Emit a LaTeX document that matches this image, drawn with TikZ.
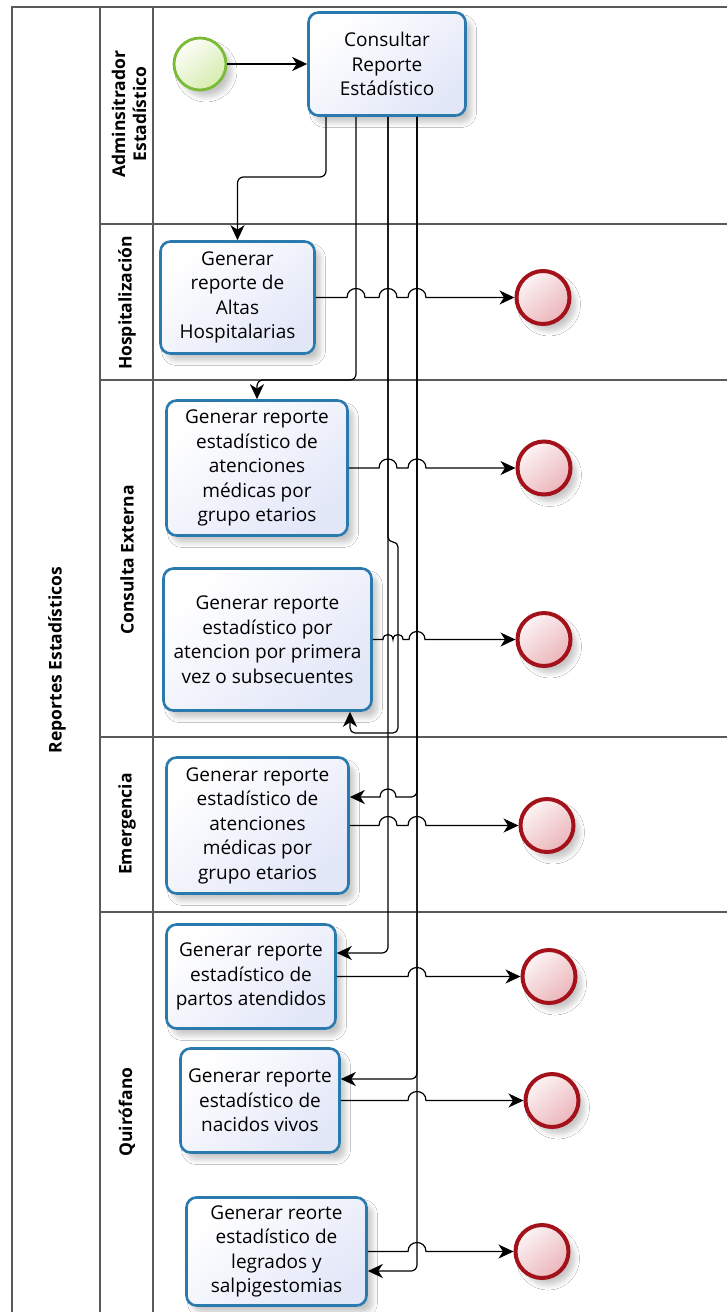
\documentclass[tikz,border=0pt]{standalone}
\usepackage{fontspec}
\setmainfont{Open Sans}
\usetikzlibrary{arrows.meta,shadows.blur}

\definecolor{taskline}{HTML}{2A7AAE}
\definecolor{taskfill}{HTML}{E2E7F8}
\definecolor{endline}{HTML}{A3121A}
\definecolor{endfill}{HTML}{EBB5BA}
\definecolor{startline}{HTML}{7BBA36}
\definecolor{startfill}{HTML}{D6ECAE}
\definecolor{laneline}{HTML}{5A5A5A}

\pgfdeclarelayer{ghost}
\pgfsetlayers{ghost,main}

% hop of a horizontal flow over a vertical one at x=#1, y=#2, radius #3
\newcommand\hop[3]{-- ({#1-#3},#2) .. controls ({#1-#3},{#2-1.33*#3}) and ({#1+#3},{#2-1.33*#3}) .. ({#1+#3},#2)}
\newcommand\hopleft[3]{-- ({#1+#3},#2) .. controls ({#1+#3},{#2-1.33*#3}) and ({#1-#3},{#2-1.33*#3}) .. ({#1-#3},#2)}

\tikzset{
  softshadow/.style={blur shadow={shadow xshift=6pt,shadow yshift=-7pt,shadow blur radius=5pt,shadow blur steps=8,shadow opacity=22}},
  task/.style={draw=taskline,line width=2.6pt,rounded corners=10pt,
    top color=white,bottom color=taskfill,shading angle=40,
    align=center,inner sep=0pt,font=\fontsize{19}{24.5}\selectfont,softshadow},
  endev/.style={circle,draw=endline,line width=4pt,minimum size=53pt,inner sep=0pt,
    top color=white!85!endfill,bottom color=endfill,shading angle=40,softshadow},
  startev/.style={circle,draw=startline,line width=2.8pt,minimum size=52pt,inner sep=0pt,
    top color=white!92!startfill,bottom color=startfill,shading angle=40,softshadow},
  flow/.style={line width=1.2pt,-{Stealth[length=15pt,width=14pt,inset=4.5pt]}},
  lane/.style={draw=laneline,line width=1.3pt},
  lanelabel/.style={rotate=90,align=center,font=\fontsize{17.5}{21}\selectfont\bfseries},
}

% all sequence flows of the process
\newcommand\flows[1]{%
  \draw[flow,#1] (start.east) -- (consultar.west);
  % from "Consultar Reporte Estadistico" to each report task
  \draw[flow,#1,rounded corners=6pt] ([xshift=-61pt]consultar.south) -- (326,177) -- (237.5,177) -- (hosp.north);
  \draw[flow,#1,rounded corners=6pt] ([xshift=-31pt]consultar.south) -- (356,380) -- (257,380) -- (c1.north);
  \draw[flow,#1,rounded corners=5pt] ([xshift=1pt]consultar.south) -- (388,542) -- (398,542) -- (398,733) -- (350,733) -- ([xshift=82.5pt]c2.south);
  \draw[flow,#1,rounded corners=6pt] ([xshift=1pt]consultar.south) -- (388,953) -- ([yshift=23.5pt]partos.east);
  \draw[flow,#1] ([xshift=30pt]consultar.south) [rounded corners=6pt] -- (417,797) [sharp corners] \hopleft{388}{797}{8} -- ([yshift=28.5pt]emerg.east);
  \draw[flow,#1,rounded corners=6pt] ([xshift=30pt]consultar.south) -- (417,1079) -- ([yshift=21.5pt]nacidos.east);
  \draw[flow,#1,rounded corners=6pt] ([xshift=30pt]consultar.south) -- (417,1271) -- ([yshift=-19.5pt]legrados.east);
  % from each report task to its end event
  \draw[flow,#1] (hosp.east) \hop{356}{297.5}{9} \hop{388}{297.5}{9} \hop{417}{297.5}{9} -- (e1.west);
  \draw[flow,#1] (c1.east) \hop{388}{468}{9} \hop{417}{468}{9} -- (e2.west);
  \draw[flow,#1] (c2.east) \hop{388}{639.5}{5} \hop{398}{639.5}{5} \hop{417}{639.5}{8} -- (e3.west);
  \draw[flow,#1] (emerg.east) \hop{388}{825.5}{9} \hop{417}{825.5}{9} -- (e4.west);
  \draw[flow,#1] (partos.east) \hop{417}{976.5}{9} -- (e5.west);
  \draw[flow,#1] (nacidos.east) \hop{417}{1100.5}{9} -- (e6.west);
  \draw[flow,#1] (legrados.east) \hop{417}{1251.5}{9} -- (e7.west);
}

\begin{document}
\begin{tikzpicture}[x=1pt,y=-1pt]
  \useasboundingbox (0,0) rectangle (727,1312);
  \fill[white] (0,0) rectangle (727,1312);

  % pool and lanes
  \draw[lane] (12,1312) -- (12,7) -- (727,7);
  \draw[lane] (100,7) -- (100,1312);
  \draw[lane] (153,7) -- (153,1312);
  \foreach \yy in {224,380,737,912} \draw[lane] (100,\yy) -- (727,\yy);

  \node[lanelabel] (pool)  at (57,660)   {Reportes Estadísticos};
  \node[lanelabel] (ladm)  at (129,114)  {Adminsitrador\\Estadístico};
  \node[lanelabel] (lhos)  at (127,303)  {Hospitalización};
  \node[lanelabel] (lcon)  at (127,560)  {Consulta Externa};
  \node[lanelabel] (lemer) at (127,824)  {Emergencia};
  \node[lanelabel] (lquir) at (127,1112) {Quirófano};

  % events and tasks
  \node[startev] (start) at (200,64) {};
  \node[task,minimum width=157,minimum height=103] (consultar) at (387,64) {Consultar\\Reporte\\Estádístico};

  \node[task,minimum width=154,minimum height=112] (hosp) at (237.5,297.5) {Generar\\reporte de\\Altas\\Hospitalarias};
  \node[task,minimum width=181,minimum height=135] (c1) at (257,468) {Generar reporte\\estadístico de\\atenciones\\médicas por\\grupo etarios};
  \node[task,minimum width=208,minimum height=142] (c2) at (267.5,639.5) {Generar reporte\\estadístico por\\atencion por primera\\vez o subsecuentes};
  \node[task,minimum width=182,minimum height=136] (emerg) at (257.5,825.5) {Generar reporte\\estadístico de\\atenciones\\médicas por\\grupo etarios};
  \node[task,minimum width=169,minimum height=104] (partos) at (251,976.5) {Generar reporte\\estadístico de\\partos atendidos};
  \node[task,minimum width=159,minimum height=104] (nacidos) at (260,1100.5) {Generar reporte\\estadístico de\\nacidos vivos};
  \node[task,minimum width=180,minimum height=108] (legrados) at (276.5,1251.5) {Generar reorte\\estadístico de\\legrados y\\salpigestomias};

  \node[endev] (e1) at (543,297.5) {};
  \node[endev] (e2) at (544,468) {};
  \node[endev] (e3) at (544,639.5) {};
  \node[endev] (e4) at (547,825.5) {};
  \node[endev] (e5) at (549,976.5) {};
  \node[endev] (e6) at (552,1100.5) {};
  \node[endev] (e7) at (542,1251.5) {};

  % faint offset copy of the flows, behind everything
  \begin{pgfonlayer}{ghost}
    \begin{scope}[transform canvas={shift={(17pt,-17pt)}}]
      \flows{draw=black!10,line width=1pt}
    \end{scope}
  \end{pgfonlayer}

  \flows{}
\end{tikzpicture}
\end{document}
